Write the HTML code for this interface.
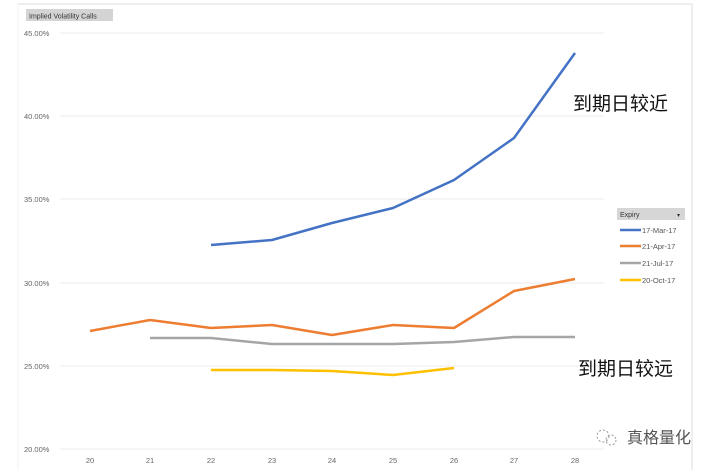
<!DOCTYPE html>
<html><head><meta charset="utf-8"><style>
body{margin:0;background:#fff;width:724px;height:470px;overflow:hidden}
</style></head><body>
<svg width="724" height="470" xmlns="http://www.w3.org/2000/svg" font-family="Liberation Sans, sans-serif">
<rect width="724" height="470" fill="#fff"/>
<line x1="18" y1="4" x2="692" y2="4" stroke="#eeeeee" stroke-width="2"/>
<line x1="18" y1="4" x2="18" y2="470" stroke="#f1f1f1" stroke-width="1"/>
<line x1="692" y1="4" x2="692" y2="470" stroke="#eeeeee" stroke-width="2"/>
<rect x="26" y="9" width="87" height="12" fill="#d4d4d4"/>
<text x="29" y="18.5" font-size="7" fill="#333">Implied Volatility Calls</text>
<g stroke="#ebebeb" stroke-width="1">
<line x1="60" y1="33" x2="604" y2="33"/><line x1="60" y1="116" x2="604" y2="116"/>
<line x1="60" y1="199" x2="604" y2="199"/><line x1="60" y1="283" x2="604" y2="283"/>
<line x1="60" y1="366" x2="604" y2="366"/><line x1="60" y1="449" x2="604" y2="449"/>
</g>
<g font-size="7.5" fill="#666">
<text x="24" y="36">45.00%</text><text x="24" y="119">40.00%</text>
<text x="24" y="202">35.00%</text><text x="24" y="286">30.00%</text>
<text x="24" y="369">25.00%</text><text x="24" y="452">20.00%</text>
</g>
<g font-size="7.5" fill="#666" text-anchor="middle">
<text x="90" y="463">20</text><text x="150" y="463">21</text><text x="211" y="463">22</text>
<text x="272" y="463">23</text><text x="332" y="463">24</text><text x="393" y="463">25</text>
<text x="454" y="463">26</text><text x="514" y="463">27</text><text x="575" y="463">28</text>
</g>
<g fill="none" stroke-width="2.5" stroke-linejoin="round">
<polyline stroke="#4472c4" points="211,245 272,240 332,223 393,208 454,180 514,138 575,53"/>
<polyline stroke="#ed7d31" points="90,331 150,320 211,328 272,325 332,335 393,325 454,328 514,291 575,279"/>
<polyline stroke="#a5a5a5" points="150,338 211,338 272,344 332,344 393,344 454,342 514,337 575,337"/>
<polyline stroke="#ffc000" points="211,370 272,370 332,371 393,375 454,368"/>
</g>
<rect x="617" y="208" width="68" height="12" fill="#d6d6d6"/>
<text x="620" y="217" font-size="7" fill="#333">Expiry</text>
<text x="677" y="217" font-size="6" fill="#333">▾</text>
<g stroke-width="2.5">
<line x1="620" y1="230" x2="641" y2="230" stroke="#4472c4"/>
<line x1="620" y1="246" x2="641" y2="246" stroke="#ed7d31"/>
<line x1="620" y1="263" x2="641" y2="263" stroke="#a5a5a5"/>
<line x1="620" y1="280" x2="641" y2="280" stroke="#ffc000"/>
</g>
<g font-size="7.5" fill="#555">
<text x="642" y="233">17-Mar-17</text><text x="642" y="249">21-Apr-17</text>
<text x="642" y="266">21-Jul-17</text><text x="642" y="283">20-Oct-17</text>
</g>
<text x="573" y="110" font-size="19" fill="#111" font-family="Noto Sans CJK SC, sans-serif">到期日较近</text>
<text x="578" y="375" font-size="19" fill="#111" font-family="Noto Sans CJK SC, sans-serif">到期日较远</text>
<circle cx="603" cy="436" r="6" fill="none" stroke="#999" stroke-dasharray="2,2"/>
<circle cx="611" cy="440" r="5" fill="none" stroke="#999" stroke-dasharray="2,2"/>
<text x="627" y="443" font-size="16" fill="#555" font-family="Noto Sans CJK SC, sans-serif">真格量化</text>
</svg>
</body></html>
